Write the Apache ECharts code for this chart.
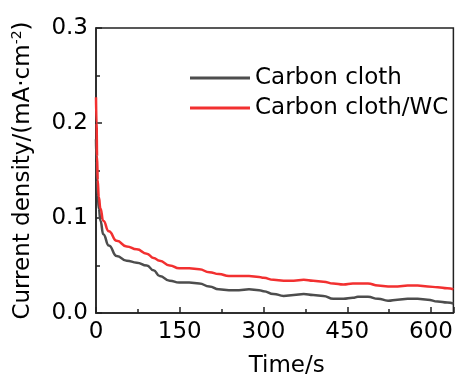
<!DOCTYPE html>
<html><head><meta charset="utf-8">
<script src="https://cdn.jsdelivr.net/npm/echarts@6/dist/echarts.min.js"></script>
<style>html,body{margin:0;padding:0;background:#fff}#c{width:456px;height:383px}</style>
</head><body><div id="c"></div>
<script>
const seriesNames = ['Carbon cloth', 'Carbon cloth/WC'];
const times = [0, 1, 2, 3, 5, 8, 13, 23, 37, 55, 73, 91, 103, 114, 132, 149, 167, 185, 203, 220, 238, 256, 274, 292, 300, 318, 336, 354, 372, 389, 407, 425, 443, 460, 469, 487, 505, 523, 540, 558, 576, 594, 612, 629, 640];
const clothValues = [0.183, 0.160, 0.140, 0.125, 0.110, 0.097, 0.083, 0.071, 0.060, 0.055, 0.053, 0.050, 0.045, 0.039, 0.034, 0.032, 0.032, 0.031, 0.028, 0.025, 0.024, 0.024, 0.025, 0.024, 0.023, 0.020, 0.018, 0.019, 0.020, 0.019, 0.018, 0.015, 0.015, 0.016, 0.017, 0.017, 0.015, 0.013, 0.014, 0.015, 0.015, 0.014, 0.012, 0.011, 0.010];
const wcValues = [0.227, 0.200, 0.165, 0.140, 0.122, 0.110, 0.097, 0.086, 0.076, 0.070, 0.067, 0.0625, 0.058, 0.055, 0.050, 0.047, 0.047, 0.046, 0.043, 0.041, 0.039, 0.039, 0.039, 0.038, 0.037, 0.035, 0.034, 0.034, 0.035, 0.034, 0.033, 0.031, 0.030, 0.031, 0.031, 0.031, 0.029, 0.028, 0.028, 0.029, 0.029, 0.028, 0.027, 0.026, 0.025];
const xTicks = [0, 150, 300, 450, 600];
const yTicks = [0.0, 0.1, 0.2, 0.3];

const FONT = 'DejaVu Sans';
const chart = echarts.init(document.getElementById('c'), null, {renderer: 'canvas'});
const pairs = vals => times.map((t, i) => [t, vals[i]]);
const axisLineStyle = {color: '#222', width: 1.5};
chart.setOption({
  animation: false,
  backgroundColor: '#fff',
  grid: {left: 96, right: 0, top: 28, bottom: 67, show: true, borderColor: '#222', borderWidth: 1.5, backgroundColor: 'transparent'},
  legend: {
    orient: 'vertical', left: 185, top: 60, itemWidth: 60, itemHeight: 3, itemGap: 4,
    icon: 'rect',
    textStyle: {fontFamily: FONT, fontSize: 23, color: '#000', lineHeight: 26},
    data: seriesNames
  },
  xAxis: {
    type: 'value', min: 0, max: 640, interval: 150,
    name: 'Time/s', nameLocation: 'middle', nameGap: 42,
    nameTextStyle: {fontFamily: FONT, fontSize: 23, color: '#000', padding: [0, 0, 0, 24]},
    axisLine: {show: true, onZero: false, lineStyle: axisLineStyle},
    axisTick: {inside: true, length: 6, lineStyle: axisLineStyle},
    minorTick: {show: true, splitNumber: 2, length: 4, lineStyle: axisLineStyle},
    splitLine: {show: false},
    axisLabel: {fontFamily: FONT, fontSize: 23, color: '#000', margin: 8, showMaxLabel: false,
      formatter: v => xTicks.includes(v) ? String(v) : ''}
  },
  yAxis: {
    type: 'value', min: 0, max: 0.3, interval: 0.1,
    name: '{n|Current density/(mA·cm}{sup|-2}{n|)}', nameLocation: 'middle', nameGap: 60,
    nameTextStyle: {fontFamily: FONT, fontSize: 23, color: '#000',
      rich: {n: {fontFamily: FONT, fontSize: 23, color: '#000'}, sup: {fontFamily: FONT, fontSize: 14, color: '#000', padding: [0, 0, 12, 0]}}},
    axisLine: {show: true, onZero: false, lineStyle: axisLineStyle},
    axisTick: {inside: true, length: 6, lineStyle: axisLineStyle},
    minorTick: {show: true, splitNumber: 2, length: 4, lineStyle: axisLineStyle},
    splitLine: {show: false},
    axisLabel: {fontFamily: FONT, fontSize: 23, color: '#000', margin: 8,
      formatter: v => { const m = yTicks.find(t => Math.abs(t - v) < 1e-9); return m === undefined ? '' : m.toFixed(1); }}
  },
  series: [
    {name: seriesNames[0], type: 'line', data: pairs(clothValues), showSymbol: false, symbol: 'none',
      smooth: 0.5, smoothMonotone: 'x', lineStyle: {color: '#4d4d4d', width: 2.5}, itemStyle: {color: '#4d4d4d'}},
    {name: seriesNames[1], type: 'line', data: pairs(wcValues), showSymbol: false, symbol: 'none',
      smooth: 0.5, smoothMonotone: 'x', lineStyle: {color: '#f23030', width: 2.5}, itemStyle: {color: '#f23030'}}
  ]
});
</script></body></html>
